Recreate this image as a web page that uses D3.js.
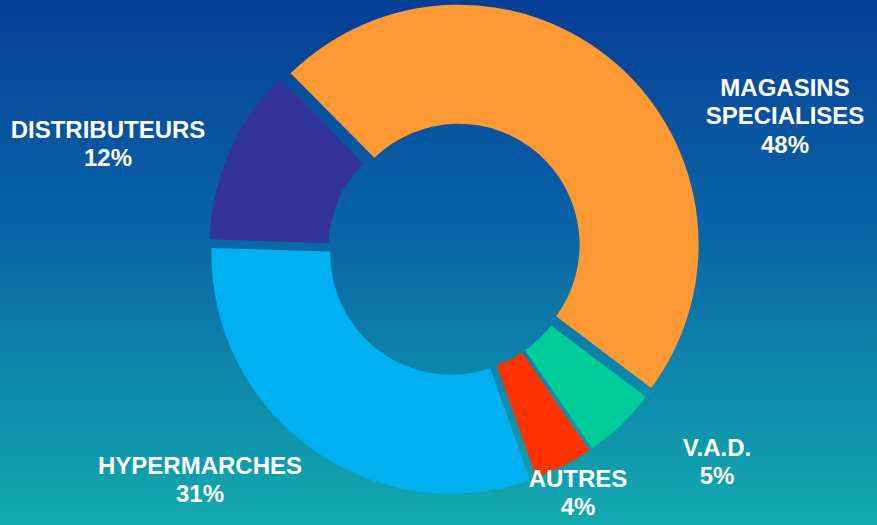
<!DOCTYPE html>
<html lang="fr">
<head>
<meta charset="UTF-8">
<title>Répartition par circuit de distribution</title>
<script src="https://d3js.org/d3.v7.min.js"></script>
<style>
    html, body {
        margin: 0;
        padding: 0;
        overflow: hidden;
        background: #0a6ea8;
    }
    .label {
        fill: #fff;
        font-family: "Liberation Sans", Arial, sans-serif;
        font-weight: bold;
        font-size: 24px;
        text-anchor: middle;
    }
</style>
</head>
<body>
<div id="chart"></div>
<script>
    // data
    const categories = ["MAGASINS SPECIALISES", "V.A.D.", "AUTRES", "HYPERMARCHES", "DISTRIBUTEURS"];
    const shares = [48, 5, 4, 31, 12];
    const colors = ["#ff9933", "#00cc99", "#ff3300", "#00b0f0", "#333399"];

    const width = 877, height = 525;
    const cx = 454, cy = 250;
    const outerR = 240, innerR = 121;

    const svg = d3.select("#chart").append("svg")
        .attr("width", width)
        .attr("height", height);

    // fond dégradé bleu -> turquoise
    const grad = svg.append("defs").append("linearGradient")
        .attr("id", "bg").attr("x1", 0).attr("y1", 0).attr("x2", 0).attr("y2", 1);
    grad.append("stop").attr("offset", "0%").attr("stop-color", "#053e97");
    grad.append("stop").attr("offset", "45%").attr("stop-color", "#0966a6");
    grad.append("stop").attr("offset", "100%").attr("stop-color", "#12aaaf");
    svg.append("rect").attr("width", width).attr("height", height).attr("fill", "url(#bg)");

    const data = categories.map((c, i) => ({ cat: c, value: shares[i], color: colors[i] }));

    const startDeg = -44.8;
    const pie = d3.pie()
        .sort(null)
        .value(d => d.value)
        .startAngle(startDeg * Math.PI / 180)
        .endAngle((startDeg + 360) * Math.PI / 180)
        .padAngle(3 / outerR);

    const arc = d3.arc()
        .innerRadius(innerR)
        .outerRadius(outerR)
        .padRadius(outerR);

    // décalage (éclatement) de chaque secteur, en px
    const explode = { "MAGASINS SPECIALISES": 7, "V.A.D.": 2, "AUTRES": 2, "HYPERMARCHES": 4.5, "DISTRIBUTEURS": 5 };

    const g = svg.append("g").attr("transform", `translate(${cx},${cy})`);

    g.selectAll("path")
        .data(pie(data))
        .join("path")
        .attr("d", arc)
        .attr("fill", d => d.data.color)
        .attr("transform", d => {
            const a = (d.startAngle + d.endAngle) / 2;
            const e = explode[d.data.cat];
            return `translate(${e * Math.sin(a)},${-e * Math.cos(a)})`;
        });

    // étiquettes : centre et ligne de base de la première ligne
    const labelPos = {
        "MAGASINS SPECIALISES": [785, 96, ["MAGASINS", "SPECIALISES"]],
        "V.A.D.": [717, 456, ["V.A.D."]],
        "AUTRES": [578, 487, ["AUTRES"]],
        "HYPERMARCHES": [200, 474, ["HYPERMARCHES"]],
        "DISTRIBUTEURS": [108, 138, ["DISTRIBUTEURS"]]
    };
    const lineH = 28.3;

    data.forEach(d => {
        const [x, y, lines] = labelPos[d.cat];
        const t = svg.append("text").attr("class", "label").attr("x", x).attr("y", y);
        lines.concat([d.value + "%"]).forEach((l, i) => {
            t.append("tspan").attr("x", x).attr("y", y + i * lineH).text(l);
        });
    });
</script>
</body>
</html>
